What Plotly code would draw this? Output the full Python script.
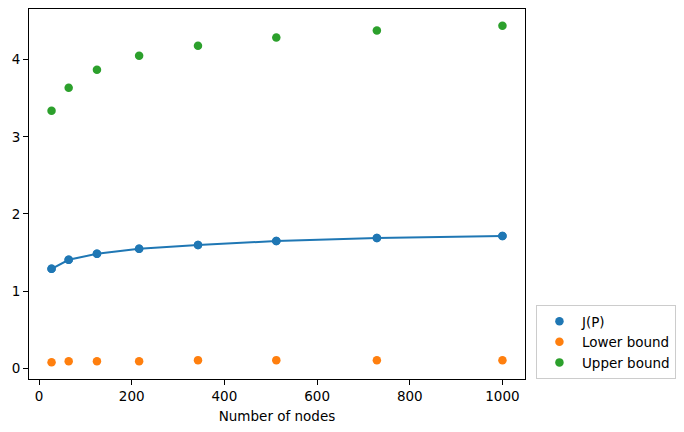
import plotly.graph_objects as go

nodes = [27, 64, 125, 216, 343, 512, 729, 1000]
j_p = [1.29, 1.406, 1.484, 1.549, 1.597, 1.650, 1.688, 1.714]
lower_bound = [0.078, 0.092, 0.093, 0.093, 0.106, 0.106, 0.104, 0.104]
upper_bound = [3.338, 3.636, 3.870, 4.052, 4.180, 4.286, 4.377, 4.440]

blue = "#1f77b4"
orange = "#ff7f0e"
green = "#2ca02c"

fig = go.Figure()
fig.add_trace(go.Scatter(x=nodes, y=j_p, mode="lines+markers", showlegend=False,
                         line=dict(color=blue, width=2), marker=dict(color=blue, size=8.5),
                         hoverinfo="skip"))
fig.add_trace(go.Scatter(x=nodes, y=j_p, mode="markers", name="J(P)",
                         marker=dict(color=blue, size=8.5)))
fig.add_trace(go.Scatter(x=nodes, y=lower_bound, mode="markers", name="Lower bound",
                         marker=dict(color=orange, size=8.5)))
fig.add_trace(go.Scatter(x=nodes, y=upper_bound, mode="markers", name="Upper bound",
                         marker=dict(color=green, size=8.5)))

axis_common = dict(showgrid=False, zeroline=False, showline=True, linecolor="black",
                   linewidth=1, mirror=True, ticks="outside", ticklen=5, tickwidth=1,
                   tickcolor="black", tickfont=dict(size=13.5, color="black"),
                   automargin=False)

fig.update_layout(
    width=684, height=432,
    margin=dict(l=29, r=158, t=9, b=53),
    plot_bgcolor="white", paper_bgcolor="white",
    font=dict(family="DejaVu Sans", size=13.5, color="black"),
    xaxis=dict(range=[-21.65, 1048.65], tickvals=[0, 200, 400, 600, 800, 1000],
               title=dict(text="Number of nodes", font=dict(size=13.5), standoff=8),
               **axis_common),
    yaxis=dict(range=[-0.1385, 4.6565], tickvals=[0, 1, 2, 3, 4], **axis_common),
    legend=dict(x=1.02, y=0, xanchor="left", yanchor="bottom", bordercolor="#cccccc",
                borderwidth=1, bgcolor="white", font=dict(size=13.5), itemwidth=35,
                tracegroupgap=0),
)

fig.write_html("out.html", config={"displayModeBar": False},
               post_script="document.body.style.margin='0';")
